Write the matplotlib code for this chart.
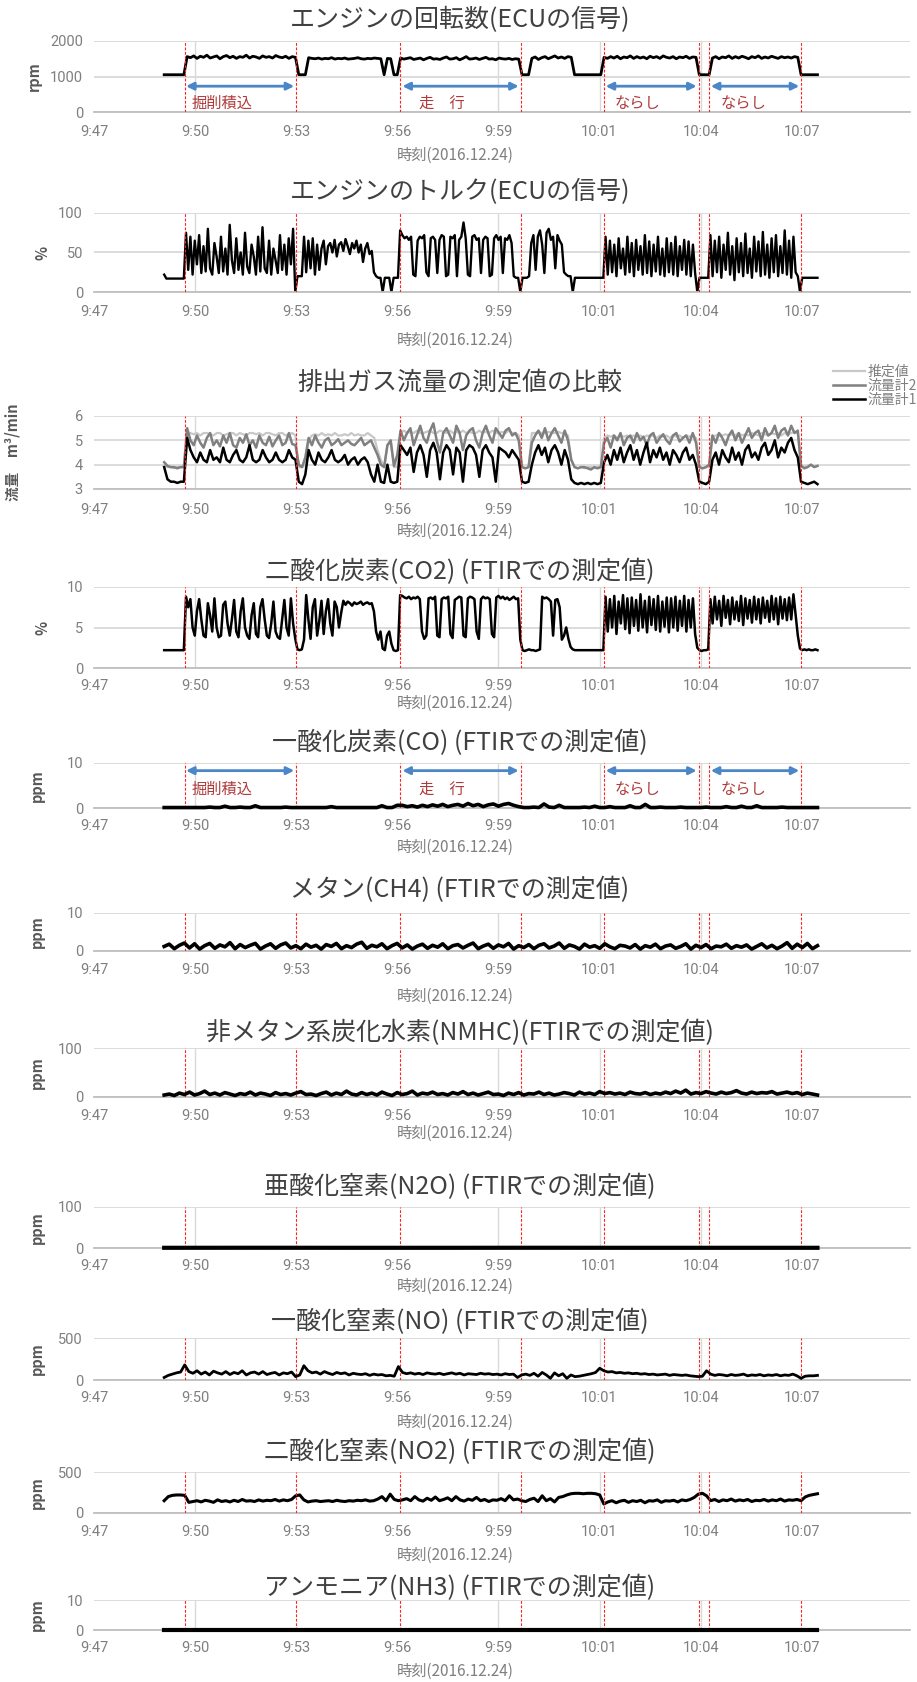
"""
Excavator field test, 2016-12-24: ECU signals and FTIR exhaust readings, 11 stacked panels.
Time axis uses tick units (0 = 9:47 label, one unit per label step).
"""

import numpy as np
import matplotlib
matplotlib.use("Agg")
import matplotlib.pyplot as plt

plt.rcParams['font.family'] = ['Noto Sans CJK JP', 'DejaVu Sans']

W, H = 917, 1682

# ---------------------------------------------------------------------------
# Axis / annotation data
# ---------------------------------------------------------------------------
TICK_LABELS = ["9:47", "9:50", "9:53", "9:56", "9:59", "10:01", "10:04", "10:07"]
X_MAX = 8.07
T_START, T_END = 0.694, 7.155          # first / last sample (tick units)

EVENT_X = [0.896, 1.995, 3.031, 4.222, 5.043, 5.98, 6.085, 6.992]   # red dashed
GRAY_X = [1.0, 4.0, 5.0, 6.0]                                        # grey verticals

PHASE_SPANS = [(0.91, 1.98), (3.05, 4.20), (5.06, 5.96), (6.10, 6.975)]
PHASE_LABELS = ["掘削積込", "走　行", "ならし", "ならし"]
PHASE_LABEL_X = [0.97, 3.21, 5.15, 6.20]

# ---------------------------------------------------------------------------
# Series (uniform sampling between T_START and T_END)
# ---------------------------------------------------------------------------
RPM = [1050, 1050, 1050, 1050, 1050, 1050, 1050,
       1560, 1530, 1580, 1510, 1570, 1540, 1600, 1520, 1550, 1580, 1500, 1560, 1590, 1530, 1570, 1510, 1560,
       1540, 1600, 1520, 1570, 1550, 1510, 1580, 1540, 1560, 1520, 1590, 1550, 1530, 1570, 1510, 1560, 1540,
       1050, 1050, 1050,
       1530, 1510, 1500, 1520, 1490, 1510, 1500, 1530, 1490, 1510, 1500, 1520, 1490, 1500, 1510, 1530, 1500,
       1490, 1510, 1500, 1520, 1510, 1500,
       1050, 1510, 1500, 1050, 1050,
       1520, 1490, 1510, 1530, 1480, 1500, 1520, 1470, 1510, 1540, 1490, 1500, 1480, 1520, 1550, 1490, 1500,
       1530, 1470, 1510, 1560, 1490, 1500, 1520, 1480, 1510, 1540, 1490, 1500, 1470, 1520, 1500, 1490, 1510,
       1480, 1500, 1490,
       1050, 1050, 1050,
       1510, 1550, 1480, 1530, 1560, 1500, 1540, 1580, 1520, 1550, 1510, 1560, 1540,
       1050, 1050, 1050, 1050, 1050, 1050, 1050, 1050, 1050,
       1540, 1510, 1560, 1520, 1570, 1500, 1550, 1530, 1580, 1510, 1560, 1520, 1550, 1500, 1570, 1530, 1560,
       1510, 1580, 1540, 1520, 1560, 1500, 1550, 1530, 1570, 1510, 1550, 1540,
       1050, 1050, 1050, 1050,
       1520, 1560, 1500, 1550, 1530, 1580, 1510, 1560, 1520, 1570, 1540, 1500, 1560, 1530, 1580, 1510, 1550,
       1520, 1570, 1540, 1510, 1560, 1530, 1550, 1520, 1560, 1540,
       1050, 1050, 1050, 1050, 1050, 1050]

TORQUE = [22, 17, 17, 17, 17, 17, 17, 17, 17, 17,
          75, 28, 70, 22, 65, 35, 72, 24, 58, 26, 80, 30, 22, 62, 45, 24, 70, 26, 55, 22,
          85, 40, 24, 68, 28, 50, 22, 75, 32, 24, 60, 45, 22, 70, 26, 82, 30, 24, 65, 22,
          55, 40, 24, 72, 28, 60, 22, 68, 35, 80, 0,
          20, 20, 20,
          70, 25, 65, 30, 68, 22, 60, 28, 55, 65, 35, 58, 62, 50, 66, 45, 60, 63, 52, 67,
          58, 48, 62, 55, 65, 50, 60, 38, 55, 62, 48, 52,
          25, 20, 18, 18, 0, 18, 18, 18, 0, 18, 18, 18,
          78,
          72, 68, 70, 66, 70, 22, 20, 65, 70, 68, 72, 25, 20, 68, 70, 66, 24, 66, 72, 70,
          20, 22, 70, 68, 72, 20, 66, 70, 88, 68, 22, 20, 70, 72, 66, 68, 24, 66, 70, 68,
          20, 22, 68, 72, 66, 70, 24, 68, 66, 72, 62, 20, 18, 18, 0,
          18, 18, 18, 20,
          62, 72, 28, 70, 78, 60, 24, 75, 80, 66, 70, 30, 72, 65, 60, 25, 22, 20, 20, 0,
          18, 18, 18, 18, 18, 18, 18, 18, 18, 18, 18, 18, 18, 18,
          70, 22, 65, 25, 60, 20, 68, 30, 55, 22, 70, 25, 62, 20, 66, 28, 58, 22, 72, 24,
          64, 20, 60, 26, 70, 22, 55, 20, 68, 25, 62, 22, 70, 20, 58, 28, 66, 22, 64, 20,
          60, 24, 0,
          18, 18, 18, 18, 18,
          72, 20, 65, 25, 70, 18, 60, 28, 75, 22, 58, 15, 68, 25, 62, 20, 74, 24, 55, 18,
          70, 26, 64, 20, 76, 22, 60, 18, 68, 25, 72, 20, 58, 24, 78, 22, 65, 18, 70, 25,
          20, 0,
          18, 18, 18, 18, 18, 18, 18, 18]

FLOW_EST = [3.95, 3.9, 3.9, 3.85, 3.9, 3.9, 3.9,
            5.2, 5.3, 5.25, 5.3, 5.2, 5.3, 5.3, 5.25, 5.2, 5.3, 5.3, 5.2, 5.25, 5.3, 5.3, 5.2, 5.3,
            5.25, 5.2, 5.3, 5.3, 5.25, 5.3, 5.2, 5.3, 5.3, 5.25, 5.2, 5.3, 5.3, 5.2, 5.25, 5.3, 5.2,
            3.9, 3.9, 4.0,
            5.0, 5.2, 5.25, 5.2, 5.3, 5.2, 5.25, 5.2, 5.3, 5.2, 5.2, 5.25, 5.2, 5.3, 5.2, 5.25, 5.2,
            5.2, 5.3, 5.2, 5.1, 4.6, 4.2,
            3.9, 4.8, 4.9, 3.9, 3.9,
            5.3, 5.4, 5.3, 5.35, 5.3, 5.4, 5.3, 5.3, 5.35, 5.4, 5.3, 5.3, 5.4, 5.35, 5.3, 5.4, 5.3,
            5.35, 5.3, 5.4, 5.3, 5.35, 5.3, 5.3, 5.4, 5.3, 5.35, 5.3, 5.4, 5.3, 5.3, 5.35, 5.3, 5.4,
            5.3, 5.3, 5.2,
            3.9, 3.85, 3.9,
            5.3, 5.3, 5.35, 5.3, 5.3, 5.35, 5.3, 5.3, 5.35, 5.3, 5.3, 5.2, 4.2,
            3.9, 3.85, 3.9, 3.85, 3.9, 3.9, 3.85, 3.9, 3.9,
            5.1, 5.2, 5.15, 5.2, 5.1, 5.2, 5.15, 5.2, 5.1, 5.2, 5.15, 5.2, 5.1, 5.2, 5.15, 5.2, 5.1,
            5.2, 5.15, 5.2, 5.1, 5.2, 5.15, 5.2, 5.1, 5.2, 5.15, 5.2, 5.1,
            3.9, 3.85, 3.9, 3.9,
            5.15, 5.2, 5.25, 5.2, 5.25, 5.2, 5.25, 5.2, 5.3, 5.2, 5.25, 5.2, 5.3, 5.25, 5.2, 5.3,
            5.25, 5.2, 5.3, 5.25, 5.3, 5.2, 5.3, 5.25, 5.3, 5.35, 5.3,
            3.95, 3.9, 3.95, 4.0, 3.9, 3.95]

FLOW_2 = [4.1, 3.95, 3.9, 3.9, 3.85, 3.9, 3.9,
          5.5, 5.0, 4.8, 5.2, 4.9, 4.7, 5.1, 5.3, 4.8, 5.0, 4.75, 5.2, 4.9, 5.3, 4.8, 4.7, 5.1,
          4.9, 5.25, 4.8, 5.0, 4.7, 5.2, 4.9, 4.8, 5.15, 4.75, 5.0, 5.2, 4.8, 4.9, 5.3, 4.85, 4.8,
          4.0, 3.9, 4.3,
          5.1, 4.8, 5.2, 4.9, 4.7, 5.0, 5.1, 4.8, 4.9, 5.05, 4.8, 4.9, 5.0, 4.85, 4.8, 4.95, 5.1,
          4.8, 4.9, 5.0, 4.7, 4.4, 4.0,
          3.9, 4.8, 5.0, 3.95, 4.4,
          5.4, 5.0, 5.3, 5.5, 4.8, 5.2, 5.6, 5.1, 4.9, 5.4, 5.7, 5.0, 4.5, 5.3, 5.5, 5.2, 4.9,
          5.6, 5.3, 4.6, 5.2, 5.4, 5.5, 5.0, 4.7, 5.3, 5.6, 5.2, 4.9, 5.5, 5.3, 5.1, 5.4, 5.5,
          5.2, 5.3, 5.0,
          3.9, 3.85, 3.9,
          4.9, 5.2, 5.4, 5.1, 5.5, 5.0, 5.3, 5.5, 5.2, 4.9, 5.4, 5.0, 4.2,
          3.9, 3.85, 3.9, 3.9, 3.85, 3.8, 3.9, 3.85, 3.9,
          4.9, 5.1, 4.7, 5.2, 5.0, 5.3, 4.8, 5.1, 5.2, 4.9, 5.3, 5.0, 5.15, 4.8, 5.2, 5.3, 4.9,
          5.1, 5.25, 5.0, 4.85, 5.2, 5.3, 4.95, 5.1, 5.2, 4.9, 5.3, 4.9,
          3.9, 3.85, 3.9, 4.0,
          5.2, 4.9, 5.3, 5.1, 4.8, 5.2, 5.4, 5.0, 5.3, 4.9, 5.2, 5.5, 5.1, 5.3, 5.4, 5.0, 5.5,
          5.2, 5.3, 5.6, 5.1, 5.4, 5.5, 5.2, 5.6, 5.3, 5.4,
          3.95, 3.85, 3.9, 4.0, 3.9, 3.95]

FLOW_1 = [3.9, 3.4, 3.3, 3.3, 3.25, 3.3, 3.3,
          5.1, 4.6, 4.3, 4.1, 4.5, 4.2, 4.1, 4.6, 4.2, 4.3, 4.1, 4.7, 4.2, 4.1, 4.4, 4.6, 4.2,
          4.1, 4.3, 4.8, 4.2, 4.1, 4.2, 4.6, 4.3, 4.1, 4.2, 4.5, 4.2, 4.1, 4.2, 4.6, 4.3, 4.2,
          3.3, 3.2, 3.6,
          4.6, 4.2, 4.0, 4.5, 4.2, 4.1, 4.3, 4.6, 4.2, 4.1, 4.2, 4.4, 4.0, 4.2, 4.3, 4.0, 4.2,
          4.3, 4.1, 3.6, 3.3, 4.0, 3.3,
          3.25, 4.0, 3.3, 3.25, 3.3,
          4.8, 4.6, 4.4, 4.7, 3.7, 4.5, 4.8, 4.4, 3.5, 4.6, 4.9, 4.5, 3.4, 4.5, 4.8, 4.6, 3.6,
          4.7, 4.5, 3.3, 4.6, 4.8, 4.7, 4.4, 3.5, 4.6, 4.8, 4.5, 4.3, 3.3, 4.7, 4.6, 4.5, 4.3,
          4.6, 4.4, 4.2,
          3.3, 3.25, 3.3,
          4.0, 4.5, 4.8, 4.4, 4.7, 4.1, 4.6, 4.8, 4.5, 4.0, 4.6, 4.2, 3.4,
          3.25, 3.2, 3.25, 3.2, 3.25, 3.2, 3.25, 3.2, 3.25,
          4.1, 4.4, 4.0, 4.6, 4.2, 4.7, 4.1, 4.5, 4.8, 4.2, 4.6, 4.0, 4.5, 4.9, 4.1, 4.6, 4.3,
          4.7, 4.2, 4.5, 4.0, 4.6, 4.4, 4.1, 4.5, 4.7, 4.2, 4.4, 4.0,
          3.3, 3.25, 3.2, 3.3,
          4.2, 4.5, 4.0, 4.6, 4.3, 4.1, 4.7, 4.2, 4.5, 4.0, 4.6, 4.8, 4.3, 4.5, 4.2, 4.7, 4.9,
          4.4, 4.6, 5.0, 4.3, 4.7, 4.5, 4.9, 5.1, 4.6, 4.3,
          3.3, 3.25, 3.2, 3.25, 3.3, 3.2]

CO2 = [2.2, 2.2, 2.2, 2.2, 2.2, 2.2, 2.2, 2.2, 2.2, 2.2,
       8.8, 7.5, 8.5, 5.0, 4.0, 7.0, 8.5, 6.0, 4.0, 3.8, 8.0, 6.5, 4.5, 8.6, 5.0, 3.8, 4.0, 7.8, 8.2, 5.5,
       4.0, 6.0, 8.4, 4.5, 3.8, 7.0, 8.6, 5.0, 4.0, 3.6, 6.5, 8.0, 4.2, 3.8, 7.5, 8.5, 6.0, 4.0, 3.7, 5.5,
       8.2, 4.5, 3.8, 3.6, 6.0, 8.4, 5.0, 4.0, 8.6, 5.5, 3.6,
       2.3, 2.2, 2.3,
       3.5, 9.0, 6.0, 3.6, 7.5, 8.5, 4.0, 5.8, 8.3, 4.2, 7.0, 8.5, 5.5, 4.0, 8.2, 7.5, 5.0, 6.8, 8.3,
       7.8, 8.2, 8.0, 7.7, 8.1, 7.9, 8.0, 8.2, 7.8, 8.0, 8.1, 7.9, 8.0,
       7.0, 4.5, 3.5, 4.5, 2.4, 2.2, 4.0, 4.5, 3.0, 2.2, 2.1, 2.2,
       9.0,
       8.9, 8.7, 8.6, 8.8, 8.5, 8.7, 8.6, 8.8, 8.5, 4.5, 3.6, 4.0, 8.6, 8.7, 8.5, 8.8, 4.0, 3.8, 8.5, 8.7,
       8.6, 8.8, 4.2, 3.7, 8.4, 8.6, 8.8, 8.7, 4.0, 3.8, 8.6, 8.8, 8.7, 8.5, 4.5, 3.6, 8.5, 8.8, 8.6, 8.7,
       8.5, 4.2, 3.8, 8.7, 8.9, 8.6, 8.8, 8.5, 8.7, 8.4, 8.6, 8.8, 8.5, 8.6, 3.5,
       2.2, 2.1, 2.2, 2.3, 2.2, 2.2, 2.1, 2.2, 2.3,
       8.8, 8.6, 8.7, 8.5, 8.2, 4.0, 8.4, 8.5, 7.5, 3.5, 4.0, 5.0, 3.6, 2.6, 2.3,
       2.2, 2.2, 2.2, 2.2, 2.2, 2.2, 2.2, 2.2, 2.2, 2.2, 2.2, 2.2, 2.2, 2.2,
       8.8, 4.5, 8.5, 5.0, 8.9, 4.2, 8.2, 5.5, 9.0, 4.8, 8.6, 4.3, 8.7, 5.2, 8.4, 4.6, 9.1, 5.0, 8.3, 4.4,
       8.8, 5.3, 8.5, 4.7, 8.9, 4.5, 8.2, 5.1, 8.7, 4.4, 8.6, 5.0, 8.8, 4.6, 8.3, 5.2, 8.9, 4.5, 8.4, 5.0,
       8.6, 4.2, 2.5,
       2.2, 2.1, 2.2, 2.2, 2.3,
       8.5, 5.5, 8.8, 6.0, 8.3, 5.2, 8.9, 6.2, 8.4, 5.4, 8.7, 6.0, 8.2, 5.8, 8.9, 5.3, 8.6, 6.1, 8.4, 5.6,
       8.8, 6.0, 8.5, 5.5, 8.7, 6.2, 8.3, 5.7, 8.9, 6.0, 8.6, 5.4, 8.8, 6.1, 8.5, 5.9, 8.7, 6.0, 9.1, 6.5,
       4.0, 2.4,
       2.2, 2.3, 2.2, 2.3, 2.2, 2.2, 2.3, 2.2]

CO = [0.1, 0.1, 0.1, 0.1, 0.1, 0.1, 0.1, 0.1, 0.1, 0.2, 0.1, 0.1, 0.4, 0.1, 0.1, 0.2, 0.1, 0.1, 0.5, 0.1,
      0.1, 0.1, 0.1, 0.1, 0.2, 0.1, 0.1, 0.1, 0.1, 0.1, 0.1, 0.1, 0.1, 0.3, 0.1, 0.1, 0.1, 0.1, 0.1, 0.1,
      0.1, 0.1, 0.1, 0.5, 0.1, 0.1, 0.6, 0.6, 0.3, 0.5, 0.2, 0.6, 0.3, 0.7, 0.4, 0.8, 0.3, 0.6, 0.8, 0.4,
      1.0, 0.5, 0.8, 0.3, 0.7, 0.9, 0.4, 0.8, 1.0, 0.6, 0.3, 0.1, 0.1, 0.2, 0.1, 0.9, 0.2, 0.1, 0.6, 0.1,
      0.1, 0.1, 0.1, 0.2, 0.1, 0.4, 0.1, 0.1, 0.3, 0.1, 0.1, 0.1, 0.5, 0.1, 0.1, 0.8, 0.1, 0.1, 0.2, 0.1,
      0.1, 0.1, 0.2, 0.1, 0.1, 0.1, 0.1, 0.2, 0.1, 0.1, 0.1, 0.3, 0.1, 0.1, 0.4, 0.1, 0.1, 0.5, 0.1, 0.1,
      0.1, 0.1, 0.2, 0.1, 0.1, 0.1, 0.1, 0.1, 0.1, 0.1]

CH4 = [1.2, 1.8, 0.6, 1.5, 2.1, 0.8, 1.9, 0.5, 1.4, 2.0, 0.7, 1.6, 1.1, 2.2, 0.6, 1.7, 0.9, 1.5, 2.0, 0.5,
       1.3, 1.9, 0.7, 1.6, 2.1, 0.8, 1.4, 0.6, 1.8, 1.0, 1.5, 0.5, 1.7, 1.2, 2.0, 0.6, 1.4, 0.9, 1.8, 2.3,
       0.7, 1.5, 1.1, 1.9, 0.6, 1.4, 2.0, 0.8, 1.6, 0.5, 1.3, 1.8, 0.7, 1.5, 1.0, 1.9, 0.6, 1.4, 1.7, 0.8,
       1.5, 2.1, 0.6, 1.3, 1.8, 0.7, 1.6, 1.1, 2.0, 0.5, 1.4, 0.9, 1.7, 0.6, 1.5, 1.9, 0.8, 1.3, 2.1, 0.7,
       1.6, 1.2, 0.5, 1.8, 1.0, 1.4, 0.7, 1.9, 1.1, 0.6, 1.5, 1.3, 0.8, 1.7, 0.5, 1.4, 1.0, 1.8, 0.6, 1.3,
       1.6, 0.7, 1.2, 1.9, 0.5, 1.5, 0.9, 1.7, 0.6, 1.3, 1.1, 1.8, 0.7, 1.4, 1.0, 1.6, 0.5, 1.2, 1.9, 0.8,
       1.5, 0.6, 1.3, 2.2, 0.7, 1.8, 0.9, 2.0, 0.6, 1.4]

NMHC = [4, 6, 3, 8, 5, 10, 4, 7, 12, 5, 8, 4, 9, 6, 3, 7, 5, 10, 4, 8,
        6, 3, 9, 5, 7, 4, 8, 11, 5, 6, 3, 7, 10, 4, 8, 5, 12, 6, 4, 9,
        5, 8, 4, 10, 6, 3, 9, 5, 7, 12, 4, 8, 6, 10, 5, 7, 4, 9, 6, 11,
        5, 8, 4, 7, 10, 5, 6, 3, 8, 5, 9, 4, 7, 6, 10, 5, 8, 4, 6, 9,
        7, 4, 10, 6, 8, 5, 11, 7, 9, 6, 8, 5, 10, 7, 6, 9, 5, 8, 6, 10,
        7, 12, 8, 14, 6, 9, 7, 11, 8, 6, 10, 7, 9, 13, 8, 6, 10, 7, 9, 8,
        11, 6, 8, 10, 7, 9, 5, 8, 6, 4]

N2O = [0.5, 0.6, 0.5, 0.5, 0.6, 0.5, 0.5, 0.5]

NO = [30, 55, 70, 85, 95, 180,
      100, 80, 110, 70, 95, 60, 105, 85, 70, 100, 65, 90, 75, 110, 60, 85, 95, 70, 100, 65,
      80, 90, 60, 85, 75, 95,
      40, 60, 170,
      110, 85, 95, 70, 100, 80, 65, 90, 75, 85, 60, 80, 70, 65, 75, 55, 70, 60, 65, 50, 55, 45,
      160,
      90, 75, 85, 70, 80, 65, 85, 75, 70, 80, 65, 75, 85, 70, 80, 60, 75, 70, 65, 80, 70, 75,
      65, 70, 60, 75, 65, 70, 30,
      60, 70, 55,
      80, 45, 90, 60, 20, 85, 50, 75, 20, 60,
      40, 45, 55, 65, 75, 90, 140,
      110, 95, 100, 85, 90, 80, 85, 75, 80, 70, 75, 65, 70, 60, 65, 70, 55, 65, 60, 55, 60, 50, 45,
      40, 45, 110,
      70, 55, 65, 60, 50, 65, 55, 60, 70, 50, 60, 55, 65, 50, 60, 55, 65, 50, 60, 55, 70, 50, 20,
      45, 50, 50, 55]

NO2 = [150, 200, 215, 220, 220, 215,
       130, 140, 150, 135, 155, 145, 130, 160, 140, 150, 135, 155, 140, 165, 145, 150, 140, 160, 145, 155,
       150, 165, 145, 160, 150, 165,
       210, 220, 160,
       135, 145, 150, 140, 145, 150, 140, 155, 145, 140, 150, 145, 155, 150, 160, 145, 150, 170, 200, 150,
       230, 165,
       150,
       160, 175, 150, 200, 160, 145, 180, 155, 195, 150, 165, 185, 150, 200, 160, 145, 170, 155, 190, 150,
       165, 140, 160, 155, 175, 150, 210, 160, 170,
       150, 140, 165,
       180, 140, 210, 150, 175, 135, 190, 200, 220, 235,
       240, 240, 235, 240, 240, 235, 220,
       110, 135, 150, 125, 145, 155, 130, 150, 140, 155, 125, 150, 145, 160, 130, 150, 145, 155, 135, 160,
       150, 165, 190,
       230, 240, 210,
       150, 165, 140, 160, 150, 170, 145, 160, 150, 165, 140, 155, 150, 165, 145, 160, 150, 170, 145, 160,
       155, 165, 150,
       195, 215, 225, 235]

NH3 = [0.1, 0.1, 0.1, 0.1, 0.1, 0.1, 0.1, 0.1]

# ---------------------------------------------------------------------------
# Panel layout (pixel rows measured on the reference)
# ---------------------------------------------------------------------------
AX_L, AX_R = 94, 910
PANELS = [
    # title, ylabel, ylim, yticks, top, bottom, title_y, ticklabel_y, xlabel_y, ylabel_x
    ("エンジンの回転数(ECUの信号)", "rpm", (0, 2000), [0, 1000, 2000], 41, 112, 20, 133, 155, 34),
    ("エンジンのトルク(ECUの信号)", "%", (0, 100), [0, 50, 100], 213, 292, 192, 313, 340, 43),
    ("排出ガス流量の測定値の比較", "流量　m³/min", (3, 6), [3, 4, 5, 6], 416, 489, 383, 512, 531, 13),
    ("二酸化炭素(CO2) (FTIRでの測定値)", "%", (0, 10), [0, 5, 10], 587, 668, 572, 687, 703, 43),
    ("一酸化炭素(CO) (FTIRでの測定値)", "ppm", (0, 10), [0, 10], 763, 808, 743, 828, 847, 37),
    ("メタン(CH4) (FTIRでの測定値)", "ppm", (0, 10), [0, 10], 913, 951, 890, 972, 996, 37),
    ("非メタン系炭化水素(NMHC)(FTIRでの測定値)", "ppm", (0, 100), [0, 100], 1048, 1097, 1033, 1117, 1133, 37),
    ("亜酸化窒素(N2O) (FTIRでの測定値)", "ppm", (0, 100), [0, 100], 1207, 1248, 1187, 1268, 1286, 37),
    ("一酸化窒素(NO) (FTIRでの測定値)", "ppm", (0, 500), [0, 500], 1338, 1380, 1322, 1400, 1422, 37),
    ("二酸化窒素(NO2) (FTIRでの測定値)", "ppm", (0, 500), [0, 500], 1472, 1513, 1452, 1533, 1555, 37),
    ("アンモニア(NH3) (FTIRでの測定値)", "ppm", (0, 10), [0, 10], 1600, 1630, 1588, 1650, 1671, 37),
]

TXT = "#404040"
TICK = "#7f7f7f"
GRID = "#d9d9d9"


def fig_y(py):
    return 1 - py / H


def series_x(vals):
    return np.linspace(T_START, T_END, len(vals))


fig = plt.figure(figsize=(W / 100, H / 100), dpi=100)
axes = []
for title, ylab, ylim, yticks, top, bot, ty, tly, xly, ylx in PANELS:
    ax = fig.add_axes([AX_L / W, fig_y(bot), (AX_R - AX_L) / W, (bot - top) / H])
    ax.set_xlim(0, X_MAX)
    ax.set_ylim(*ylim)
    ax.set_xticks(range(len(TICK_LABELS)))
    ax.set_xticklabels(TICK_LABELS)
    ax.set_yticks(yticks)
    for s in ("top", "left", "right"):
        ax.spines[s].set_visible(False)
    ax.spines["bottom"].set_color("#bfbfbf")
    ax.spines["bottom"].set_linewidth(1.3)
    ax.grid(axis="y", color=GRID, lw=1.3)
    ax.set_axisbelow(True)
    pad_pt = max((tly - bot - 8.5) * 0.72, 1)
    ax.tick_params(length=0, labelsize=10.5, labelcolor=TICK)
    ax.tick_params(axis="x", pad=pad_pt)
    ax.tick_params(axis="y", pad=8)
    for lab in ax.get_xticklabels() + ax.get_yticklabels():
        lab.set_family("Roboto")
    for gx in GRAY_X:
        ax.axvline(gx, color=GRID, lw=1.0, zorder=0.5)
    for ex in EVENT_X:
        ax.axvline(ex, color="#ff2020", lw=0.8, ls=(0, (2.5, 1.5)), zorder=3)
    fig.text(460 / W, fig_y(ty), title, ha="center", va="center", fontsize=18, color=TXT)
    fig.text(455 / W, fig_y(xly), "時刻(2016.12.24)", ha="center", va="center",
             fontsize=11, color=TICK)
    fig.text(ylx / W, fig_y((top + bot) / 2), ylab, rotation=90, ha="center", va="center",
             fontsize=10.5, color="#595959", fontweight="bold")
    axes.append(ax)

ax_rpm, ax_tq, ax_flow, ax_co2, ax_co, ax_ch4, ax_nmhc, ax_n2o, ax_no, ax_no2, ax_nh3 = axes

ax_rpm.plot(series_x(RPM), RPM, color="black", lw=2.0)
ax_tq.plot(series_x(TORQUE), TORQUE, color="black", lw=1.7)

ax_flow.plot(series_x(FLOW_EST), FLOW_EST, color="#c8c8c8", lw=1.6, label="推定値")
ax_flow.plot(series_x(FLOW_2), FLOW_2, color="#808080", lw=1.8, label="流量計2")
ax_flow.plot(series_x(FLOW_1), FLOW_1, color="black", lw=1.8, label="流量計1")
ax_flow.legend(loc="upper right", bbox_to_anchor=(1.0, fig_y(365)), bbox_transform=fig.transFigure,
               frameon=False, fontsize=10, labelcolor="#7f7f7f", handlelength=2.3,
               handletextpad=0.2, labelspacing=0.0, borderaxespad=0, borderpad=0)

ax_co2.plot(series_x(CO2), CO2, color="black", lw=1.8)
ax_co.plot(series_x(CO), CO, color="black", lw=2.6, clip_on=False, zorder=4)
ax_ch4.plot(series_x(CH4), CH4, color="black", lw=2.6, clip_on=False, zorder=4)
ax_nmhc.plot(series_x(NMHC), NMHC, color="black", lw=2.6, clip_on=False, zorder=4)
ax_n2o.plot(series_x(N2O), N2O, color="black", lw=3.0, clip_on=False, zorder=4)
ax_no.plot(series_x(NO), NO, color="black", lw=2.0, clip_on=False, zorder=4)
ax_no2.plot(series_x(NO2), NO2, color="black", lw=2.2)
ax_nh3.plot(series_x(NH3), NH3, color="black", lw=3.0, clip_on=False, zorder=4)

# work-phase arrows and labels (rpm and CO panels)
for ax, y_arrow, y_text in ((ax_rpm, 727, 240), (ax_co, 8.3, 4.2)):
    for (x0, x1), lab, lx in zip(PHASE_SPANS, PHASE_LABELS, PHASE_LABEL_X):
        ax.annotate("", xy=(x1, y_arrow), xytext=(x0, y_arrow),
                    arrowprops=dict(arrowstyle="<|-|>", color="#4a86c8", lw=2.0,
                                    mutation_scale=11, shrinkA=0, shrinkB=0))
        ax.text(lx, y_text, lab, color="#b03a3a", fontsize=11, ha="left", va="center")

fig.savefig("out.png", dpi=100)
